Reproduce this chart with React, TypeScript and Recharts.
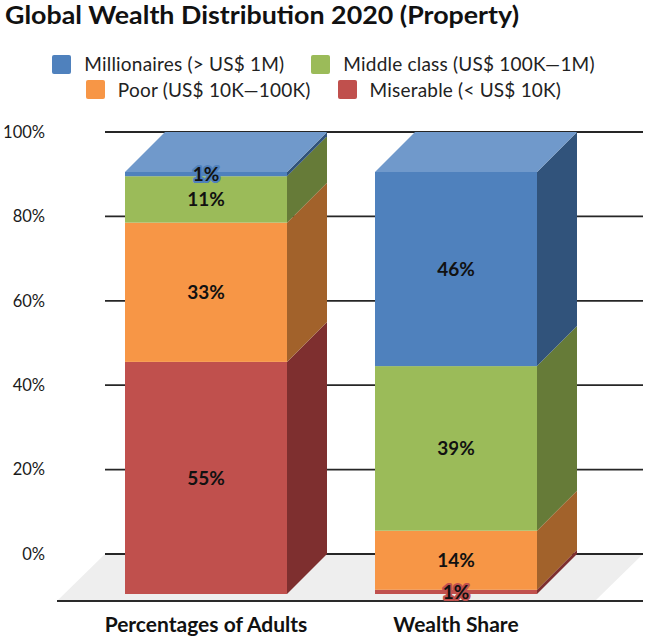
import React from "react";
import { BarChart, Bar, XAxis, YAxis, CartesianGrid, LabelList } from "recharts";

document.body.style.margin = "0";

// ── Data ────────────────────────────────────────────────────────────────────
const CATEGORIES = ["Percentages of Adults", "Wealth Share"];
const MISERABLE = [55, 1];
const POOR = [33, 14];
const MIDDLE_CLASS = [11, 39];
const MILLIONAIRES = [1, 46];
const Y_TICKS = [0, 20, 40, 60, 80, 100];

const NAMES = {
  millionaires: "Millionaires (> US$ 1M)",
  middle: "Middle class (US$ 100K—1M)",
  poor: "Poor (US$ 10K—100K)",
  miserable: "Miserable (< US$ 10K)",
};

const data = CATEGORIES.map((category, i) => ({
  category,
  miserable: MISERABLE[i],
  poor: POOR[i],
  middle: MIDDLE_CLASS[i],
  millionaires: MILLIONAIRES[i],
}));

// ── Look ────────────────────────────────────────────────────────────────────
const COLORS: Record<string, { front: string; side: string; top?: string }> = {
  millionaires: { front: "#4F81BD", side: "#31537B", top: "#7099CB" },
  middle: { front: "#9BBB59", side: "#667B38" },
  poor: { front: "#F79646", side: "#A2622B" },
  miserable: { front: "#C0504D", side: "#7E2F2F" },
};
const LEGEND_ROWS = [["millionaires", "middle"], ["poor", "miserable"]];
const STACK = ["miserable", "poor", "middle", "millionaires"];

const FONT = "Lato, 'Open Sans', sans-serif";
const DX = 40; // depth of the 3d boxes
const DY = 40;
const FLOOR_DX = 47;
const FLOOR_DY = 46;
const X_PADDING = { left: 16, right: 22 };

// ── 3d box for one stacked segment ─────────────────────────────────────────
const makeBox = (key: string) => (props: any) => {
  const { x, y, width: w, height: h } = props;
  if (!h || h <= 0) return <g />;
  const c = COLORS[key];
  const fx = x - DX;
  const fy = y + DY;
  return (
    <g>
      <polygon
        points={`${fx + w},${fy} ${x + w},${y} ${x + w},${y + h} ${fx + w},${fy + h}`}
        fill={c.side}
      />
      {c.top && (
        <polygon points={`${fx},${fy} ${fx + w},${fy} ${x + w},${y} ${x},${y}`} fill={c.top} />
      )}
      <rect x={fx} y={fy} width={w} height={h} fill={c.front} />
    </g>
  );
};

// value label in the middle of the front face, with a halo in the segment colour
const makeLabel = (key: string) => (props: any) => {
  const box = props.viewBox && props.viewBox.width != null ? props.viewBox : props;
  const { x, y, width, height } = box;
  return (
    <text
      x={x - DX + width / 2}
      y={y + DY + height / 2}
      dy="0.36em"
      textAnchor="middle"
      fontFamily={FONT}
      fontWeight={700}
      fontSize={19}
      fill="#111"
      stroke={COLORS[key].front}
      strokeWidth={4}
      strokeLinejoin="round"
      paintOrder="stroke"
    >
      {props.value}%
    </text>
  );
};

// gridlines on the back wall; the 0% line also carries the floor
const renderGridLine = (props: any) => {
  const { x1, x2, y1, key } = props;
  const isFloor = props.y != null && props.height != null && Math.abs(y1 - (props.y + props.height)) < 1;
  return (
    <g key={key}>
      {isFloor && (
        <>
          <polygon
            points={`${x1},${y1} ${x2},${y1} ${x2 - FLOOR_DX},${y1 + FLOOR_DY} ${x1 - FLOOR_DX},${y1 + FLOOR_DY}`}
            fill="#EEEEEE"
          />
          <line
            x1={x1 - FLOOR_DX - 1}
            x2={x2}
            y1={y1 + FLOOR_DY + 1}
            y2={y1 + FLOOR_DY + 1}
            stroke="#2a2a2a"
            strokeWidth={2}
          />
        </>
      )}
      <line x1={x1} x2={x2} y1={y1} y2={y1} stroke="#262626" strokeWidth={1.8} />
    </g>
  );
};

const CategoryTick = (props: any) => {
  const { x, y, payload } = props;
  return (
    <text
      x={x - DX}
      y={y}
      dy={70}
      textAnchor="middle"
      fontFamily={FONT}
      fontWeight={700}
      fontSize={21}
      fill="#111"
    >
      {payload.value}
    </text>
  );
};

const Legend3d = () => (
  <div style={{ position: "absolute", left: 0, top: 0, width: 647, fontFamily: FONT, fontSize: 19, color: "#222" }}>
    {LEGEND_ROWS.map((row, r) => (
      <div
        key={r}
        style={{
          position: "absolute", left: 0, top: 51 + r * 25.5, width: 647, height: 26, lineHeight: "26px",
          display: "flex", justifyContent: "center", alignItems: "center", gap: 27,
        }}
      >
        {row.map((k) => (
          <div key={k} style={{ display: "flex", alignItems: "center", gap: 13 }}>
            <span style={{ width: 19, height: 19, background: COLORS[k].front, borderRadius: 2, display: "inline-block" }} />
            <span style={{ whiteSpace: "nowrap", letterSpacing: 0.2 }}>{NAMES[k as keyof typeof NAMES]}</span>
          </div>
        ))}
      </div>
    ))}
  </div>
);

export default function App() {
  return (
    <div style={{ position: "relative", width: 647, height: 637, background: "#fff", overflow: "hidden" }}>
      <BarChart
        width={647}
        height={637}
        data={data}
        margin={{ top: 132, right: 4, bottom: 0, left: 0 }}
      >
        <CartesianGrid vertical={false} horizontal={renderGridLine} />
        <XAxis
          dataKey="category"
          axisLine={false}
          tickLine={false}
          height={83}
          interval={0}
          padding={X_PADDING}
          tick={<CategoryTick />}
        />
        {/* twin axis so the value labels are drawn above every box */}
        <XAxis xAxisId="labels" dataKey="category" hide padding={X_PADDING} />
        <YAxis
          domain={[0, 100]}
          ticks={Y_TICKS}
          width={105}
          axisLine={false}
          tickLine={false}
          tickSize={0}
          tickMargin={60}
          tickFormatter={(v) => `${v}%`}
          tick={{ fill: "#1a1a1a", fontSize: 16.5, fontFamily: FONT }}
        />
        {STACK.map((k) => (
          <Bar
            key={k}
            dataKey={k}
            name={NAMES[k as keyof typeof NAMES]}
            stackId="a"
            barSize={162}
            fill={COLORS[k].front}
            shape={makeBox(k)}
            isAnimationActive={false}
          />
        ))}
        {STACK.map((k) => (
          <Bar
            key={`lbl-${k}`}
            xAxisId="labels"
            dataKey={k}
            stackId="lbl"
            barSize={162}
            fill="none"
            shape={() => <g />}
            legendType="none"
            isAnimationActive={false}
          >
            <LabelList dataKey={k} content={makeLabel(k)} />
          </Bar>
        ))}
      </BarChart>
      <svg width={647} height={40} style={{ position: "absolute", left: 0, top: 0 }}>
        <text
          x={5}
          y={24}
          fontFamily={FONT}
          fontWeight={700}
          fontSize={25}
          fill="#111"
          textLength={514}
          lengthAdjust="spacingAndGlyphs"
        >
          Global Wealth Distribution 2020 (Property)
        </text>
      </svg>
      <Legend3d />
    </div>
  );
}
